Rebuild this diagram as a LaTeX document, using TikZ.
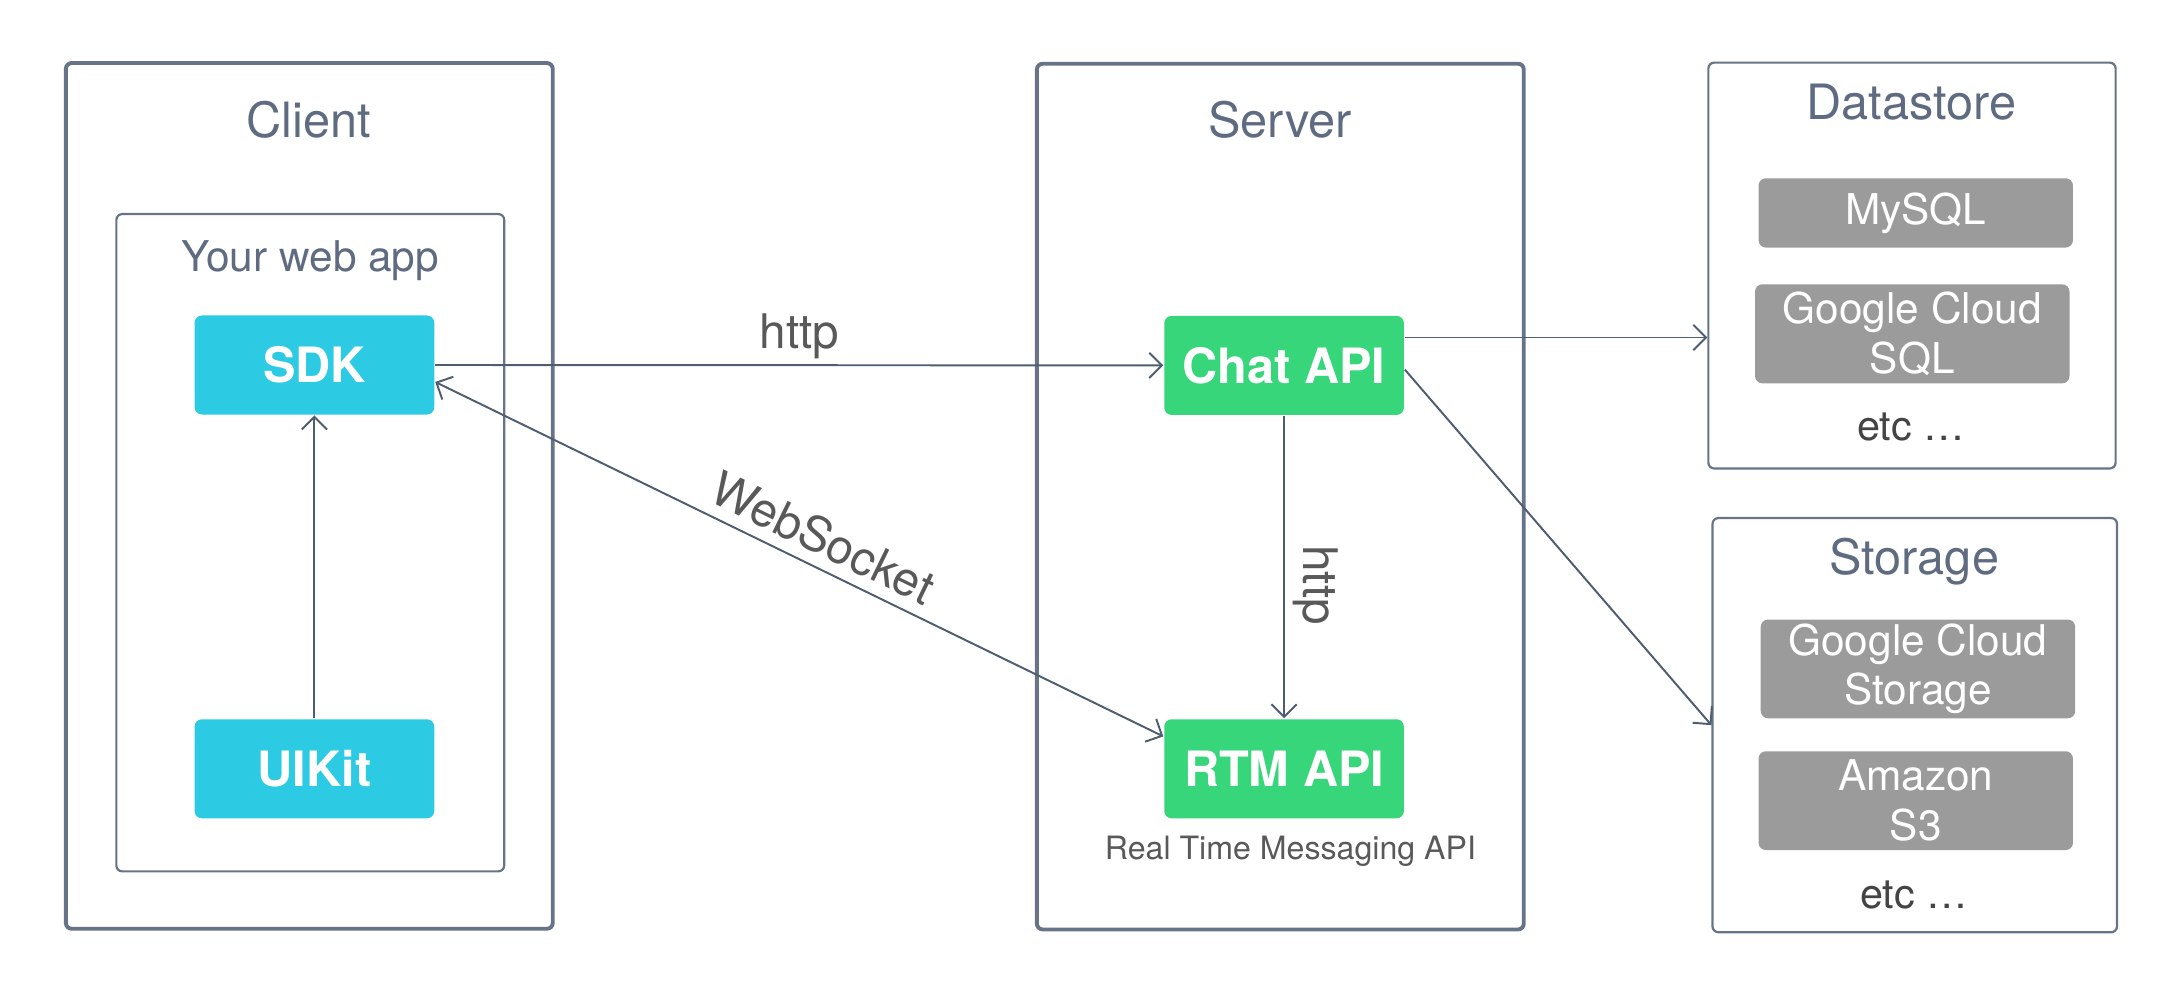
\documentclass[tikz,border=0pt]{standalone}
\usepackage{fontspec}
\setmainfont{TeX Gyre Heros}
\usepackage{tikz}
\usetikzlibrary{positioning}
\usetikzlibrary{calc}
\usetikzlibrary{arrows.meta}
\definecolor{slate}{HTML}{677387}
\definecolor{titleslate}{HTML}{5E6B80}
\definecolor{sdkcyan}{HTML}{2DCBE3}
\definecolor{apigreen}{HTML}{37D67A}
\definecolor{storegray}{HTML}{9B9B9B}
\definecolor{arrowslate}{HTML}{4F5D70}
\definecolor{labelgray}{HTML}{595959}
\definecolor{etcgray}{HTML}{444444}

\begin{document}
\begin{tikzpicture}[x=0.1mm, y=-0.1mm,
    frame/.style={draw=slate, line width=0.8pt, rounded corners=1.2pt, minimum width=3.515cm, minimum height=6.25cm},
    panel/.style={draw=slate, line width=0.45pt, rounded corners=1.2pt},
    title/.style={anchor=base, text=titleslate, font=\fontsize{10}{12}\selectfont},
    apibox/.style={rounded corners=1.5pt, minimum width=1.73cm, minimum height=0.715cm, inner sep=0pt, text=white, font=\fontsize{10}{12}\selectfont\bfseries},
    dbbox/.style={fill=storegray, rounded corners=1.5pt, minimum width=2.27cm, inner sep=0pt, align=center, text=white, font=\fontsize{8.7}{10.2}\selectfont},
    etcnote/.style={anchor=base, text=etcgray, font=\fontsize{8.5}{10}\selectfont},
    link/.style={draw=arrowslate, line width=0.4pt, -{Straight Barb[length=2.6pt,width=5.2pt]}},
    linklabel/.style={text=labelgray, font=\fontsize{9.8}{12}\selectfont},
]
    \useasboundingbox (0,0) rectangle (1568,713);

    \node[frame] (client) at (223.3,358) {};
    \node[title] at (223,99) {Client};
    \node[panel, minimum width=2.8cm, minimum height=4.745cm] (webapp) at (224,391.8) {};
    \node[title, font=\fontsize{8.7}{10}\selectfont] at (224,196) {Your web app};
    \node[apibox, fill=sdkcyan] (sdk) at (227,263.5) {SDK};
    \node[apibox, fill=sdkcyan] (uikit) at (227,555) {UIKit};

    \node[frame] (server) at (924.3,358.5) {};
    \node[title] at (924,99) {Server};
    \node[apibox, fill=apigreen] (chat) at (927,263.8) {Chat API};
    \node[apibox, fill=apigreen] (rtm) at (927,555) {RTM API};
    \node[anchor=base, text=labelgray, font=\fontsize{6.6}{8}\selectfont] at (931.6,620.5) {Real Time Messaging API};

    \node[panel, minimum width=2.94cm, minimum height=2.93cm] (datastore) at (1380.3,191.7) {};
    \node[title] at (1380,86.2) {Datastore};
    \node[dbbox, minimum height=0.5cm] (mysql) at (1383,153.7) {MySQL};
    \node[dbbox, minimum height=0.715cm] (gcsql) at (1380.5,241) {Google Cloud\\SQL};
    \node[etcnote] at (1379.5,318.2) {etc …};

    \node[panel, minimum width=2.92cm, minimum height=2.99cm] (storage) at (1382.3,523.5) {};
    \node[title] at (1382,415) {Storage};
    \node[dbbox, minimum height=0.713cm] (gcs) at (1384.6,482.9) {Google Cloud\\Storage};
    \node[dbbox, minimum height=0.713cm] (s3) at (1383,578) {Amazon\\S3};
    \node[etcnote] at (1381.7,656) {etc …};

    \draw[link] (uikit) -- (sdk);
    \draw[link] (sdk.east) -- node[linklabel, above, inner sep=1pt] {http} (chat.west);
    \draw[link] (chat) -- node[linklabel, rotate=-90, anchor=south, pos=0.56, inner sep=1.7pt] {http} (rtm);
    \draw[link, {Straight Barb[length=2.6pt,width=5.2pt]}-{Straight Barb[length=2.6pt,width=5.2pt]}] (sdk.-8.5) -- node[linklabel, sloped, above, pos=0.515, inner sep=2.2pt] {WebSocket} (rtm.165);
    \draw[link] (chat.13) -- (chat.13 -| datastore.west);
    \draw[link] (chat.-2.6) -- (storage.west);
\end{tikzpicture}
\end{document}
